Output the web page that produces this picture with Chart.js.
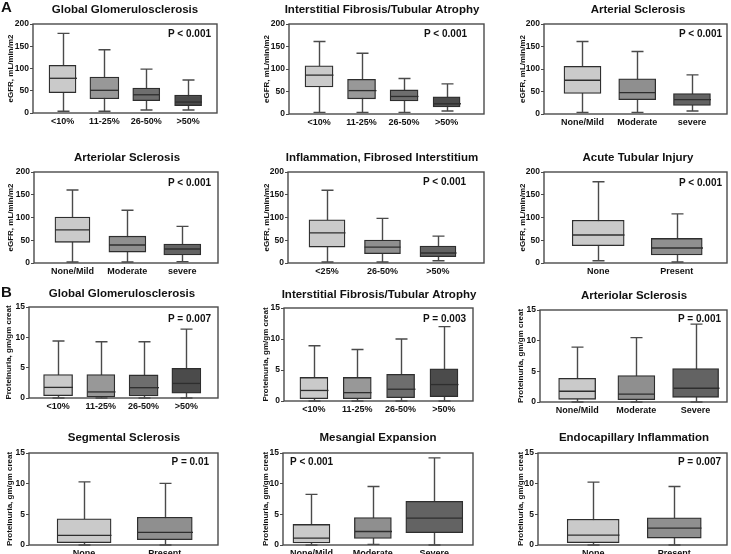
<!DOCTYPE html>
<html><head><meta charset="utf-8">
<script src="https://cdn.jsdelivr.net/npm/chart.js@4.4.1/dist/chart.umd.min.js"></script>
<style>
html,body{margin:0;padding:0;background:#fff;}
#wrap{position:relative;width:731px;height:554px;overflow:hidden;background:#fff;}
#wrap canvas{position:absolute;left:0;top:0;}
</style></head><body><div id="wrap"></div>
<script>
// ================= DATA =================
const catsPct4 = ['<10%', '11-25%', '26-50%', '>50%'];
const catsSevLower = ['None/Mild', 'Moderate', 'severe'];
const catsSev = ['None/Mild', 'Moderate', 'Severe'];
const catsInfl = ['<25%', '26-50%', '>50%'];
const catsPresence = ['None', 'Present'];

const egfrTicks = [0, 50, 100, 150, 200];
const protTicks = [0, 5, 10, 15];

// A: eGFR panels
const a1Min = [4, 4, 6.7, 6.7];      const a1Q1 = [45.5, 32, 27.6, 16.4];
const a1Med = [78, 51, 41, 24.6];    const a1Q3 = [107, 80.6, 56, 40];    const a1Max = [179, 142, 98.5, 74];

const a2Min = [3.7, 3.7, 3.7, 6.6];  const a2Q1 = [60, 33.7, 29, 16];
const a2Med = [86.4, 52, 39, 22.7];  const a2Q3 = [107, 77, 53.5, 38];    const a2Max = [161, 135, 79, 67];

const a3Min = [3.7, 3.7, 6.6];       const a3Q1 = [45.8, 32, 19];
const a3Med = [75, 47.6, 32];        const a3Q3 = [106, 78, 45.4];        const a3Max = [161, 139, 87];

const a4Min = [2.2, 2.2, 3];         const a4Q1 = [45.4, 24, 17.6];
const a4Med = [73, 39.6, 30.8];      const a4Q3 = [101, 59, 41.8];        const a4Max = [160.4, 116, 80.6];

const a5Min = [2.2, 2.2, 5];         const a5Q1 = [35, 20.5, 14];
const a5Med = [66, 35, 22];          const a5Q3 = [95, 50.5, 37.4];       const a5Max = [160, 98, 59];

const a6Min = [5, 2.2];              const a6Q1 = [38, 17.6];
const a6Med = [61.5, 33];            const a6Q3 = [94, 54];               const a6Max = [178.6, 108];

// B: proteinuria panels
const b1Min = [0, 0, 0, 0];          const b1Q1 = [0.38, 0.16, 0.33, 0.8];
const b1Med = [1.75, 1.0, 1.7, 2.4]; const b1Q3 = [3.87, 3.87, 3.8, 4.9]; const b1Max = [9.4, 9.27, 9.27, 11.35];

const b2Min = [0, 0, 0, 0];          const b2Q1 = [0.38, 0.38, 0.54, 0.7];
const b2Med = [1.7, 1.35, 1.9, 2.65];const b2Q3 = [3.8, 3.8, 4.3, 5.2];   const b2Max = [8.9, 8.3, 10, 12];

const b3Min = [0, 0, 0];             const b3Q1 = [0.44, 0.38, 0.76];
const b3Med = [1.75, 1.3, 2.24];     const b3Q3 = [3.87, 4.3, 5.45];      const b3Max = [8.95, 10.5, 12.7];

const b4Min = [0, 0];                const b4Q1 = [0.38, 0.86];
const b4Med = [1.56, 2.05];          const b4Q3 = [4.26, 4.53];           const b4Max = [10.3, 10.04];

const b5Min = [0, 0.1, 0];           const b5Q1 = [0.32, 1.08, 2.0];
const b5Med = [1.13, 2.2, 4.37];     const b5Q3 = [3.35, 4.48, 7.12];     const b5Max = [8.26, 9.55, 14.2];

const b6Min = [0, 0];                const b6Q1 = [0.38, 1.13];
const b6Med = [1.6, 2.75];           const b6Q3 = [4.2, 4.42];            const b6Max = [10.25, 9.55];

const titles = ['Global Glomerulosclerosis', 'Interstitial Fibrosis/Tubular Atrophy', 'Arterial Sclerosis',
  'Arteriolar Sclerosis', 'Inflammation, Fibrosed Interstitium', 'Acute Tubular Injury',
  'Global Glomerulosclerosis', 'Interstitial Fibrosis/Tubular Atrophy', 'Arteriolar Sclerosis',
  'Segmental Sclerosis', 'Mesangial Expansion', 'Endocapillary Inflammation'];
const pTexts = ['P < 0.001', 'P < 0.001', 'P < 0.001', 'P < 0.001', 'P < 0.001', 'P < 0.001',
  'P = 0.007', 'P = 0.003', 'P = 0.001', 'P = 0.01', 'P < 0.001', 'P = 0.007'];
const yTitleA = 'eGFR, mL/min/m2';
const yTitleB = 'Proteinuria, gm/gm creat';

// ================= STYLE / LAYOUT =================
const FONT = '"Liberation Sans", Arial, Helvetica, sans-serif';
const NARROW = '"Liberation Sans Narrow", "Arial Narrow", "Liberation Sans", sans-serif';
const pal4 = ['#cacaca', '#989898', '#6e6e6e', '#4b4b4b'];
const pal3 = ['#cacaca', '#8f8f8f', '#636363'];
const pal2 = ['#cacaca', '#8f8f8f'];

const panels = [
  {cats: catsPct4, mn: a1Min, q1: a1Q1, md: a1Med, q3: a1Q3, mx: a1Max, ticks: egfrTicks, yt: yTitleA,
   L: 33, R: 217, T: 24, B: 113, xmin: 0.295, xmax: 4.69, bw: [27, 29, 27, 27], ylx: 11, tx: 125, ty: 10, px: 211, py: 34, pa: 'right', pal: pal4, letter: 'A', ly: 8},
  {cats: catsPct4, mn: a2Min, q1: a2Q1, md: a2Med, q3: a2Q3, mx: a2Max, ticks: egfrTicks, yt: yTitleA,
   L: 289, R: 484, T: 24, B: 114, xmin: 0.294, xmax: 4.88, bw: [28, 28, 28, 27], ylx: 266.7, tx: 382, ty: 10, px: 467, py: 34, pa: 'right', pal: pal4},
  {cats: catsSevLower, mn: a3Min, q1: a3Q1, md: a3Med, q3: a3Q3, mx: a3Max, ticks: egfrTicks, yt: yTitleA,
   L: 544, R: 727, T: 24, B: 114, xmin: 0.297, xmax: 3.64, bw: [37, 37, 37], ylx: 523, tx: 638, ty: 10, px: 722, py: 34, pa: 'right', pal: pal3},
  {cats: catsSevLower, mn: a4Min, q1: a4Q1, md: a4Med, q3: a4Q3, mx: a4Max, ticks: egfrTicks, yt: yTitleA,
   L: 34, R: 218, T: 172, B: 263, xmin: 0.30, xmax: 3.65, bw: [35, 37, 37], ylx: 11, tx: 127, ty: 158, px: 211, py: 183, pa: 'right', pal: pal3},
  {cats: catsInfl, mn: a5Min, q1: a5Q1, md: a5Med, q3: a5Q3, mx: a5Max, ticks: egfrTicks, yt: yTitleA,
   L: 288, R: 484, T: 172, B: 263, xmin: 0.297, xmax: 3.83, bw: [36, 36, 36], ylx: 266.7, tx: 382, ty: 158, px: 466, py: 182, pa: 'right', pal: pal3},
  {cats: catsPresence, mn: a6Min, q1: a6Q1, md: a6Med, q3: a6Q3, mx: a6Max, ticks: egfrTicks, yt: yTitleA,
   L: 544, R: 727, T: 172, B: 263, xmin: 0.31, xmax: 2.64, bw: [52, 51], ylx: 523, tx: 638, ty: 158, px: 722, py: 183, pa: 'right', pal: pal2},
  {cats: catsPct4, mn: b1Min, q1: b1Q1, md: b1Med, q3: b1Q3, mx: b1Max, ticks: protTicks, yt: yTitleB,
   L: 29, R: 218, T: 307, B: 398, xmin: 0.32, xmax: 4.74, bw: [29, 28, 29, 29], ylx: 9, tx: 122, ty: 294, px: 211, py: 319, pa: 'right', pal: pal4, letter: 'B', ly: 293},
  {cats: catsPct4, mn: b2Min, q1: b2Q1, md: b2Med, q3: b2Q3, mx: b2Max, ticks: protTicks, yt: yTitleB,
   L: 284, R: 473, T: 308, B: 401, xmin: 0.31, xmax: 4.67, bw: [28, 28, 28, 28], ylx: 265.5, tx: 379, ty: 295, px: 466, py: 319, pa: 'right', pal: pal4},
  {cats: catsSev, mn: b3Min, q1: b3Q1, md: b3Med, q3: b3Q3, mx: b3Max, ticks: protTicks, yt: yTitleB,
   L: 540, R: 727, T: 310, B: 402, xmin: 0.373, xmax: 3.53, bw: [37, 37, 46], ylx: 520.5, tx: 634, ty: 296, px: 721, py: 319, pa: 'right', pal: pal3},
  {cats: catsPresence, mn: b4Min, q1: b4Q1, md: b4Med, q3: b4Q3, mx: b4Max, ticks: protTicks, yt: yTitleB,
   L: 29, R: 218, T: 453, B: 545, xmin: 0.317, xmax: 2.66, bw: [54, 55], ylx: 9.5, tx: 124, ty: 438, px: 209, py: 462, pa: 'right', pal: pal2},
  {cats: catsSev, mn: b5Min, q1: b5Q1, md: b5Med, q3: b5Q3, mx: b5Max, ticks: protTicks, yt: yTitleB,
   L: 283, R: 473, T: 453, B: 545, xmin: 0.537, xmax: 3.63, bw: [37, 37, 57], ylx: 265.3, tx: 378, ty: 438, px: 290, py: 462, pa: 'left', pal: pal3},
  {cats: catsPresence, mn: b6Min, q1: b6Q1, md: b6Med, q3: b6Q3, mx: b6Max, ticks: protTicks, yt: yTitleB,
   L: 538, R: 727, T: 453, B: 545, xmin: 0.32, xmax: 2.65, bw: [52, 54], ylx: 520.5, tx: 634, ty: 438, px: 721, py: 462, pa: 'right', pal: pal2}
];

const XH = 22;          // x-axis band height
const TITLE_PAD = 0;    // y title padding
const Y_FONT = 8;

function boxPlugin(p, idx) {
  return {
    id: 'boxParts' + idx,
    beforeDatasetsDraw(chart) {
      const {ctx, scales: {x, y}} = chart;
      ctx.save();
      ctx.strokeStyle = '#4a4a4a';
      ctx.lineWidth = 1.4;
      p.cats.forEach((c, i) => {
        const cx = Math.round(x.getPixelForValue(i + 1)) + 0.5;
        const yMin = y.getPixelForValue(p.mn[i]);
        const yMax = y.getPixelForValue(p.mx[i]);
        ctx.beginPath();
        ctx.moveTo(cx, yMin); ctx.lineTo(cx, yMax);
        ctx.moveTo(cx - 6, yMax); ctx.lineTo(cx + 6, yMax);
        ctx.moveTo(cx - 6, yMin); ctx.lineTo(cx + 6, yMin);
        ctx.stroke();
      });
      ctx.restore();
    },
    afterDatasetsDraw(chart) {
      const {ctx, chartArea: a, scales: {x, y}} = chart;
      ctx.save();
      // medians
      ctx.strokeStyle = '#2e2e2e';
      ctx.lineWidth = 1.3;
      p.cats.forEach((c, i) => {
        const cx = Math.round(x.getPixelForValue(i + 1)) + 0.5;
        const ym = y.getPixelForValue(p.md[i]);
        ctx.beginPath();
        ctx.moveTo(cx - p.bw[i] / 2, ym); ctx.lineTo(cx + p.bw[i] / 2, ym);
        ctx.stroke();
      });
      // frame
      ctx.strokeStyle = '#4a4a4a';
      ctx.lineWidth = 1.4;
      ctx.strokeRect(a.left, a.top, a.right - a.left, a.bottom - a.top);
      // texts
      ctx.fillStyle = '#111';
      ctx.textBaseline = 'middle';
      ctx.font = 'bold 11.5px ' + FONT;
      ctx.textAlign = 'center';
      ctx.fillText(titles[idx], p.tx, p.ty);
      ctx.font = 'bold 10px ' + FONT;
      ctx.textAlign = p.pa;
      ctx.fillText(pTexts[idx], p.px, p.py);
      if (p.letter) {
        ctx.font = 'bold 15px ' + FONT;
        ctx.textAlign = 'left';
        ctx.fillText(p.letter, 1, p.ly);
      }
      ctx.restore();
    }
  };
}

const wrap = document.getElementById('wrap');
panels.forEach((p, idx) => {
  const cv = document.createElement('canvas');
  cv.width = 731; cv.height = 554;
  cv.style.width = '731px'; cv.style.height = '554px';
  wrap.appendChild(cv);
  const padL = p.ylx - (Y_FONT * 1.2) / 2 - TITLE_PAD;
  const yW = p.L - padL;
  const datasets = p.cats.map((c, i) => ({
    label: c,
    data: [{x: i + 1, y: [p.q1[i], p.q3[i]]}],
    backgroundColor: p.pal[i],
    borderColor: '#2e2e2e',
    borderWidth: 1.3,
    borderSkipped: false,
    barThickness: p.bw[i],
    grouped: false
  }));
  new Chart(cv, {
    type: 'bar',
    data: {datasets},
    options: {
      responsive: false,
      animation: false,
      devicePixelRatio: 1,
      layout: {padding: {left: padL, right: 731 - p.R, top: p.T, bottom: 554 - p.B - XH}},
      plugins: {legend: {display: false}, tooltip: {enabled: false}, title: {display: false}},
      scales: {
        x: {
          type: 'linear', min: p.xmin, max: p.xmax, offset: false,
          afterFit: s => { s.height = XH; },
          afterBuildTicks: s => { s.ticks = p.cats.map((c, i) => ({value: i + 1})); },
          ticks: {
            autoSkip: false, maxRotation: 0, padding: 3, color: '#111',
            font: {family: FONT, size: 9, weight: 'bold'},
            callback: v => p.cats[Math.round(v) - 1] ?? ''
          },
          grid: {display: false, drawTicks: false, offset: false},
          border: {display: false}
        },
        y: {
          min: p.ticks[0], max: p.ticks[p.ticks.length - 1],
          afterFit: s => { s.width = yW; },
          afterBuildTicks: s => { s.ticks = p.ticks.map(v => ({value: v})); },
          ticks: {padding: 1, color: '#111', font: {family: NARROW, size: 8.5, weight: 'bold'}},
          grid: {display: true, drawOnChartArea: false, drawTicks: true, tickLength: 3, color: '#4a4a4a', lineWidth: 1},
          border: {display: false},
          title: {display: true, text: p.yt, color: '#111', padding: TITLE_PAD, font: {family: NARROW, size: Y_FONT, weight: 'bold'}}
        }
      }
    },
    plugins: [boxPlugin(p, idx)]
  });
});
</script></body></html>
